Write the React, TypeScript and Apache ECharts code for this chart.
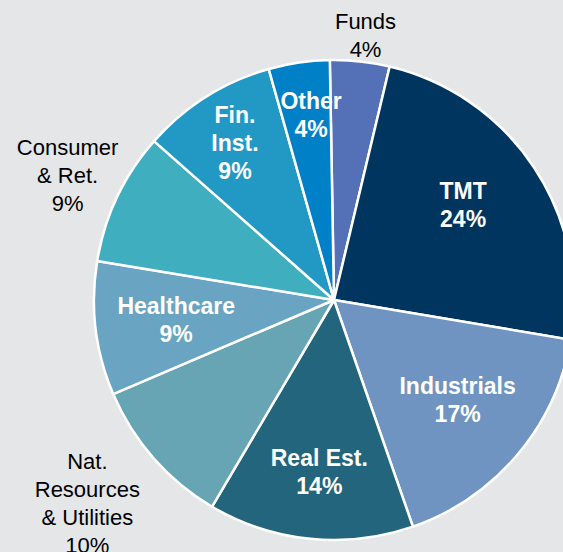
import React, { useEffect, useRef } from "react";
import * as echarts from "echarts";

// Data
const categories = [
  "Funds",
  "TMT",
  "Industrials",
  "Real Est.",
  "Nat.\nResources\n& Utilities",
  "Healthcare",
  "Consumer\n& Ret.",
  "Fin.\nInst.",
  "Other",
];
const shares = [4.0, 23.9, 17.0, 13.8, 10.1, 9.0, 8.9, 9.1, 4.1];

// Styling / layout
const colors = [
  "#5470b6",
  "#00355f",
  "#6f94c1",
  "#22657c",
  "#68a5b4",
  "#69a5c2",
  "#3faebf",
  "#2299c4",
  "#0080c6",
];
const insideLabel = [false, true, true, true, false, true, false, true, true];
const labelRadius = [266, 160, 159, 173, 320, 159, 294, 186, 186];
const labelAngleShift = [0.6, -2.7, -1.2, -0.8, 1.7, -0.2, -0.4, 0, 1.3];

const W = 563;
const H = 552;
const CX = 334;
const CY = 300;
const R = 240;
const START = 91;

export default function App() {
  const ref = useRef<HTMLDivElement>(null);
  useEffect(() => {
    document.body.style.margin = "0";
    const chart = echarts.init(ref.current!, null, { renderer: "svg" });
    const total = shares.reduce((a, b) => a + b, 0);
    const midAngles: number[] = [];
    let cum = 0;
    shares.forEach((v) => {
      midAngles.push(90 - START + ((cum + v / 2) / total) * 360);
      cum += v;
    });
    chart.setOption({
      animation: false,
      backgroundColor: "#e5e6e8",
      series: [
        {
          type: "pie",
          center: [CX, CY],
          radius: [0, R],
          startAngle: START,
          clockwise: true,
          avoidLabelOverlap: false,
          labelLine: { show: false },
          itemStyle: { borderColor: "#ffffff", borderWidth: 2.5 },
          label: {
            show: true,
            position: "inside",
            formatter: (p: any) => `${p.name}\n${Math.round(p.value)}%`,
            fontFamily: "Liberation Sans, Arial, sans-serif",
            lineHeight: 28,
            align: "center",
          },
          labelLayout: (params: any) => {
            const i = params.dataIndex;
            const a = ((midAngles[i] + labelAngleShift[i]) * Math.PI) / 180;
            const r = labelRadius[i];
            return {
              x: CX + r * Math.sin(a),
              y: CY - r * Math.cos(a),
              align: "center",
              verticalAlign: "middle",
            };
          },
          data: categories.map((name, i) => ({
            name,
            value: shares[i],
            itemStyle: { color: colors[i] },
            label: insideLabel[i]
              ? { color: "#ffffff", fontWeight: "bold", fontSize: 23 }
              : { color: "#000000", fontWeight: "normal", fontSize: 22 },
          })),
        },
      ],
    });
    return () => chart.dispose();
  }, []);
  return (
    <div
      ref={ref}
      style={{ position: "absolute", left: 0, top: 0, width: W, height: H }}
    />
  );
}
